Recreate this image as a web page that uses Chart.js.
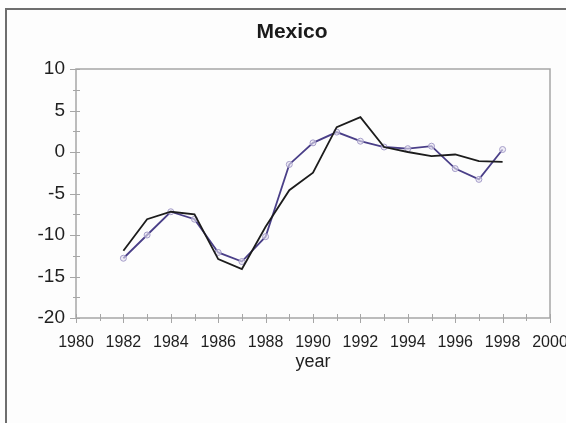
<!DOCTYPE html>
<html>
<head>
<meta charset="utf-8">
<script src="https://cdn.jsdelivr.net/npm/chart.js@4.4.0/dist/chart.umd.min.js"></script>
<style>
  html, body { margin: 0; padding: 0; background: #fdfdfd; overflow: hidden; }
  #wrap { position: relative; width: 566px; height: 423px; overflow: hidden; }
  #frame {
    position: absolute; left: 5px; top: 8px; right: -10px; bottom: -10px;
    border-left: 2px solid #6e6e6e; border-top: 2px solid #6e6e6e;
    pointer-events: none;
  }
  canvas { position: absolute; left: 0; top: 0; }
</style>
</head>
<body>
<div id="wrap">
  <canvas id="chart" width="600" height="423"></canvas>
  <div id="frame"></div>
</div>
<script>
const years = [1982, 1983, 1984, 1985, 1986, 1987, 1988, 1989, 1990,
  1991, 1992, 1993, 1994, 1995, 1996, 1997, 1998];
const actual = [-12.8, -10.0, -7.2, -8.1, -12.1, -13.2, -10.2, -1.5, 1.1,
  2.4, 1.3, 0.6, 0.4, 0.7, -2.0, -3.3, 0.3];
const fitted = [-11.9, -8.1, -7.2, -7.5, -12.9, -14.1, -9.0, -4.6, -2.5,
  3.0, 4.2, 0.6, 0.0, -0.5, -0.3, -1.1, -1.2];
const yTicks = [-20, -15, -10, -5, 0, 5, 10];
const xTicks = [1980, 1982, 1984, 1986, 1988, 1990, 1992, 1994, 1996, 1998, 2000];

const axisColor = "#a6a6a6";

// box around the plot plus Excel-style ticks crossing the axes
const axisBox = {
  id: "axisBox",
  afterDatasetsDraw(chart) {
    const { ctx, chartArea: a, scales } = chart;
    const x = scales.x;
    const y = scales.y;
    ctx.save();
    ctx.strokeStyle = axisColor;
    ctx.lineWidth = 1.5;
    ctx.strokeRect(a.left, a.top, a.right - a.left, a.bottom - a.top);
    ctx.lineWidth = 1;
    ctx.beginPath();
    for (let v = 1980; v <= 2000; v++) {
      const px = Math.round(x.getPixelForValue(v)) + 0.5;
      const major = v % 2 === 0;
      ctx.moveTo(px, a.bottom - 4);
      ctx.lineTo(px, a.bottom + (major ? 5 : 3));
    }
    for (let v = -20; v <= 10; v += 2.5) {
      const py = Math.round(y.getPixelForValue(v)) + 0.5;
      const major = v % 5 === 0;
      ctx.moveTo(a.left - (major ? 6 : 3), py);
      ctx.lineTo(a.left + 4, py);
    }
    ctx.stroke();
    ctx.restore();
  },
};

new Chart(document.getElementById("chart"), {
  type: "line",
  data: {
    datasets: [
      {
        label: "fitted",
        data: years.map((yr, i) => ({ x: yr, y: fitted[i] })),
        borderColor: "#1c1c1c",
        borderWidth: 1.8,
        pointRadius: 0,
        tension: 0,
      },
      {
        label: "actual",
        data: years.map((yr, i) => ({ x: yr, y: actual[i] })),
        borderColor: "#4a3f88",
        borderWidth: 1.8,
        pointRadius: 3,
        pointBorderWidth: 1,
        pointBorderColor: "#a49cc8",
        pointBackgroundColor: "rgba(230,226,242,0.6)",
        tension: 0,
      },
    ],
  },
  options: {
    responsive: false,
    animation: false,
    layout: { padding: { top: 0, left: 34, right: 50, bottom: 50 } },
    plugins: {
      legend: { display: false },
      tooltip: { enabled: false },
      title: {
        display: true,
        text: "Mexico",
        color: "#1a1a1a",
        font: { family: "Liberation Sans, Arial, sans-serif", size: 21, weight: "bold" },
        padding: { top: 19.4, bottom: 24.4 },
      },
    },
    scales: {
      x: {
        type: "linear",
        min: 1980,
        max: 2000,
        afterBuildTicks: (scale) => { scale.ticks = xTicks.map((v) => ({ value: v })); },
        afterFit: (scale) => { scale.height = 55; },
        grid: { display: false, drawTicks: false },
        border: { display: false },
        ticks: {
          padding: 15,
          color: "#1f1f1f",
          maxRotation: 0,
          autoSkip: false,
          font: { family: "Liberation Sans, Arial, sans-serif", size: 16 },
          callback: (v) => String(v),
        },
        title: {
          display: true,
          text: "year",
          color: "#1f1f1f",
          padding: { top: 0, bottom: 0 },
          font: { family: "Liberation Sans, Arial, sans-serif", size: 18 },
        },
      },
      y: {
        min: -20,
        max: 10,
        afterBuildTicks: (scale) => { scale.ticks = yTicks.map((v) => ({ value: v })); },
        afterFit: (scale) => { scale.width = 42; },
        grid: { display: false, drawTicks: false },
        border: { display: false },
        ticks: {
          padding: 11,
          color: "#1f1f1f",
          font: { family: "Liberation Sans, Arial, sans-serif", size: 19 },
        },
      },
    },
  },
  plugins: [axisBox],
});
</script>
</body>
</html>
